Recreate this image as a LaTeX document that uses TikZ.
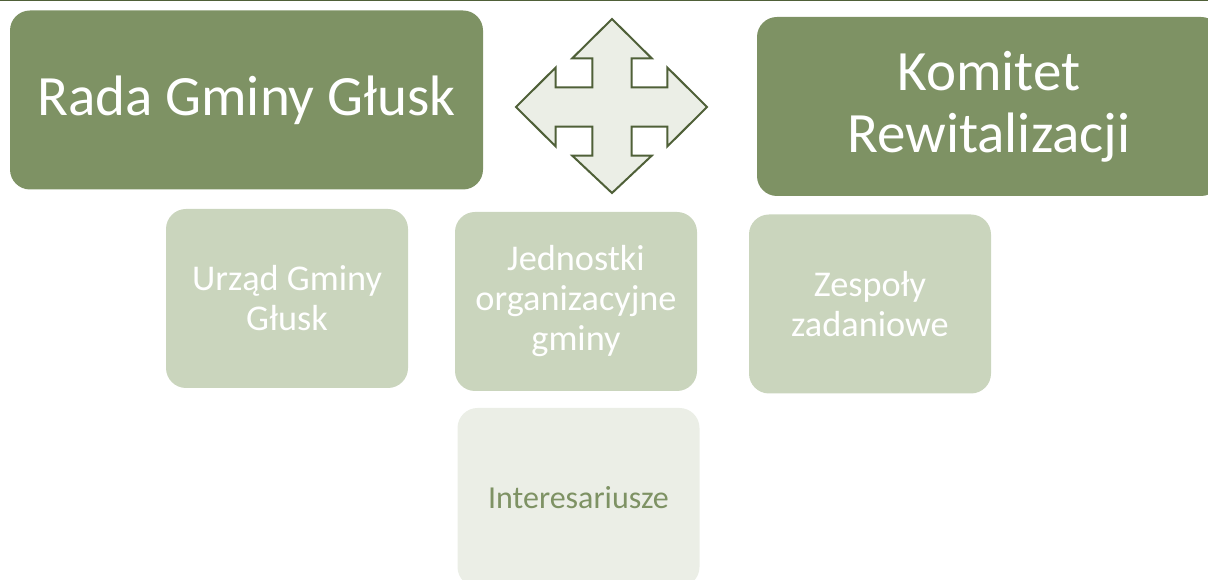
\documentclass[tikz,border=0pt]{standalone}
\usepackage{fontspec}
\setmainfont{Carlito}
\definecolor{olive}{HTML}{7E9264}
\definecolor{oliveline}{HTML}{4F6038}
\definecolor{sage}{HTML}{CAD5BD}
\definecolor{mist}{HTML}{EBEEE6}
\begin{document}
\begin{tikzpicture}[x=0.75pt, y=-0.75pt,
    mainbox/.style={rectangle, rounded corners=15pt, fill=olive, text=white, inner sep=0pt,
        minimum height=134.25pt, align=center, font=\fontsize{42.75}{46.5}\selectfont},
    unitbox/.style={rectangle, rounded corners=15pt, fill=sage, text=white, inner sep=0pt,
        minimum width=181.5pt, minimum height=134.25pt, align=center, font=\fontsize{27.2}{30}\selectfont}]
    \useasboundingbox (0,0) rectangle (1208,580);
    \draw[oliveline, line width=1.5pt] (0,0.5) -- (1208,0.5);
    \draw 
    node[mainbox, minimum width=354.75pt](rada)at(246.5,100){Rada Gminy Głusk}
    node[mainbox, minimum width=348pt](komitet)at(989,106.5){Komitet\\Rewitalizacji}
    node[unitbox](urzad)at(287,298.5){Urząd Gminy\\Głusk}
    node[unitbox](jednostki)at(576,301.5){Jednostki\\organizacyjne\\gminy}
    node[unitbox](zespoly)at(870,304){Zespoły\\zadaniowe}
    node[unitbox, fill=mist, text=olive, font=\fontsize{24}{30}\selectfont](inter)at(578.5,497.5){Interesariusze}
    ;
    % four-way arrow
    \coordinate (hub) at (612,107);
    \draw[oliveline, fill=mist, line width=1.5pt, line join=miter]
    (hub)++(0,-88) --++(39.7,39.3) --++(-20,0) --++(0,29) --++(35.6,0) --++(0,-19.8)
    --++(39.7,39.5) --++(-39.7,39.5) --++(0,-19.8) --++(-35.6,0) --++(0,29) --++(20,0)
    --++(-39.7,37.3) --++(-39.7,-37.3) --++(20,0) --++(0,-29) --++(-36.6,0) --++(0,19.8)
    --++(-39.7,-39.5) --++(39.7,-39.5) --++(0,19.8) --++(36.6,0) --++(0,-29) --++(-20,0)
    -- cycle;
\end{tikzpicture}
\end{document}
